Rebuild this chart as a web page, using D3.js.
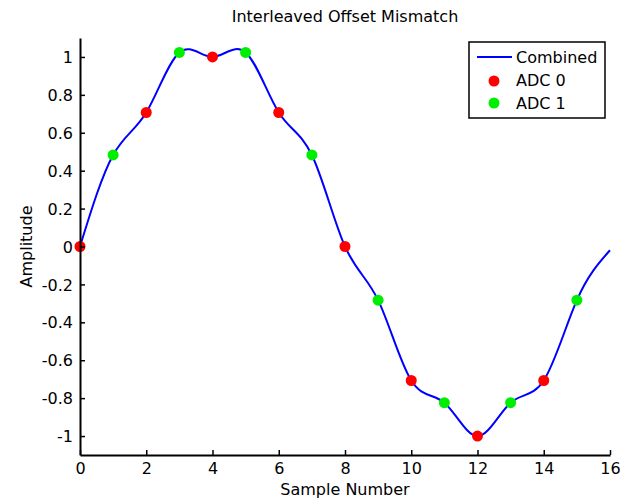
<!DOCTYPE html>
<html>
<head>
<meta charset="utf-8">
<script src="https://cdn.jsdelivr.net/npm/d3@7"></script>
<style>
  body { margin: 0; background: #fff; }
  svg { font-family: "DejaVu Sans", "Liberation Sans", Arial, sans-serif; }
</style>
</head>
<body>
<svg width="625" height="500"></svg>
<script>
// samples
const adc0X = [0, 2, 4, 6, 8, 10, 12, 14]
const adc0Y = [0, 0.707, 1.0, 0.707, 0, -0.707, -1.0, -0.707]
const adc1X = [1, 3, 5, 7, 9, 11, 13, 15]
const adc1Y = [0.483, 1.024, 1.024, 0.483, -0.283, -0.824, -0.824, -0.283]
// last point of the combined trace
const endX = 16
const endY = -0.02

const xTicks = [0, 2, 4, 6, 8, 10, 12, 14, 16]
const yTicks = [-1, -0.8, -0.6, -0.4, -0.2, 0, 0.2, 0.4, 0.6, 0.8, 1]

const svg = d3.select('svg')
const margin = {top: 38, right: 15, bottom: 45, left: 80}
const w = 625 - margin.left - margin.right
const h = 500 - margin.top - margin.bottom

const g = svg.append('g')
  .attr('transform', `translate(${margin.left},${margin.top})`)

const x = d3.scaleLinear().domain([0, 16]).range([0, w])
const y = d3.scaleLinear().domain([-1.1, 1.1]).range([h, 0])

// combined = both adcs merged in sample order
const a0 = adc0X.map((v, i) => ({x: v, y: adc0Y[i]}))
const a1 = adc1X.map((v, i) => ({x: v, y: adc1Y[i]}))
const combined = a0.concat(a1, [{x: endX, y: endY}]).sort((a, b) => a.x - b.x)

const line = d3.line()
  .x(d => x(d.x))
  .y(d => y(d.y))
  .curve(d3.curveNatural)

g.append('path')
  .datum(combined)
  .attr('fill', 'none')
  .attr('stroke', '#0000ff')
  .attr('stroke-width', 2)
  .attr('d', line)

g.selectAll('.p0').data(a0).enter().append('circle')
  .attr('cx', d => x(d.x)).attr('cy', d => y(d.y)).attr('r', 5.5)
  .attr('fill', '#ff0000')

g.selectAll('.p1').data(a1).enter().append('circle')
  .attr('cx', d => x(d.x)).attr('cy', d => y(d.y)).attr('r', 5.5)
  .attr('fill', '#00ee00')

// axes, ticks point inward like matlab
const xAxis = d3.axisBottom(x).tickValues(xTicks).tickSizeInner(-5).tickSizeOuter(0).tickPadding(8)
const yAxis = d3.axisLeft(y).tickValues(yTicks).tickSizeInner(-5).tickSizeOuter(0).tickPadding(7)
  .tickFormat(d => d3.format('')(+d.toFixed(1)).replace('−', '-'))

const xg = g.append('g').attr('transform', `translate(0,${h})`).call(xAxis)
const yg = g.append('g').call(yAxis)

;[xg, yg].forEach(a => {
  a.attr('font-family', null)
  a.select('.domain').attr('stroke', '#000').attr('stroke-width', 2)
  a.selectAll('line').attr('stroke', '#000').attr('stroke-width', 1.5)
  a.selectAll('text').attr('fill', '#000').style('font-size', '16px')
})
yg.selectAll('text').attr('dy', '0.35em')

svg.append('text')
  .attr('x', margin.left + w / 2).attr('y', 22)
  .attr('text-anchor', 'middle').style('font-size', '16px')
  .text('Interleaved Offset Mismatch')

svg.append('text')
  .attr('x', margin.left + w / 2).attr('y', 495)
  .attr('text-anchor', 'middle').style('font-size', '16px')
  .text('Sample Number')

svg.append('text')
  .attr('transform', `translate(32,${y(0) + margin.top}) rotate(-90)`)
  .attr('text-anchor', 'middle').style('font-size', '16px')
  .text('Amplitude')

// legend
const leg = svg.append('g').attr('transform', 'translate(469,42)')
leg.append('rect').attr('width', 136).attr('height', 76)
  .attr('fill', '#fff').attr('stroke', '#000').attr('stroke-width', 1.5)
leg.append('line').attr('x1', 8).attr('x2', 43).attr('y1', 15).attr('y2', 15)
  .attr('stroke', '#0000ff').attr('stroke-width', 2)
leg.append('circle').attr('cx', 25).attr('cy', 39).attr('r', 5.5).attr('fill', '#ff0000')
leg.append('circle').attr('cx', 25).attr('cy', 61).attr('r', 5.5).attr('fill', '#00ee00')
const labels = ['Combined', 'ADC 0', 'ADC 1']
leg.selectAll('.lt').data(labels).enter().append('text')
  .attr('x', 47).attr('y', (d, i) => 15 + i * 23).attr('dy', '0.35em')
  .style('font-size', '16px').text(d => d)
</script>
</body>
</html>
